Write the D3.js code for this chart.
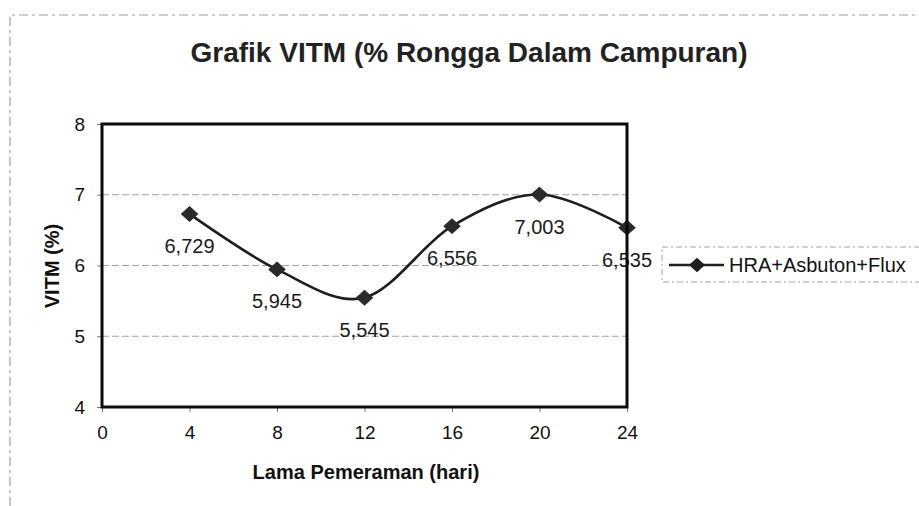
<!DOCTYPE html>
<html lang="en">
<head>
    <meta charset="UTF-8">
    <title>Grafik VITM</title>
    <script src="https://d3js.org/d3.v7.min.js"></script>
    <style>
        body {
            margin: 0;
            background-color: #ffffff;
            font-family: Arial, 'Liberation Sans', sans-serif;
        }
        .grid line {
            stroke: #a0a0a0;
            stroke-width: 1px;
            stroke-dasharray: 7, 3;
        }
    </style>
</head>
<body>
    <div id="chart"></div>
    <script>
        // data
        const days = [4, 8, 12, 16, 20, 24];
        const vitm = [6.729, 5.945, 5.545, 6.556, 7.003, 6.535];
        const seriesName = "HRA+Asbuton+Flux";
        const xTicks = [0, 4, 8, 12, 16, 20, 24];
        const yTicks = [4, 5, 6, 7, 8];

        const svgWidth = 919;
        const svgHeight = 506;
        const plot = { left: 102, top: 124, right: 627, bottom: 407 };

        const svg = d3.select("#chart").append("svg")
            .attr("width", svgWidth)
            .attr("height", svgHeight);

        // faint chart-area border (scan remains)
        svg.append("path")
            .attr("d", `M10,${svgHeight} L10,15 L${svgWidth},15`)
            .attr("fill", "none")
            .attr("stroke", "#a0a0a0")
            .attr("stroke-width", 1.2)
            .attr("stroke-dasharray", "9,4,3,4");

        const x = d3.scaleLinear().domain([0, 24]).range([plot.left, plot.right]);
        const y = d3.scaleLinear().domain([4, 8]).range([plot.bottom, plot.top]);

        const idLocale = d3.formatLocale({ decimal: ",", thousands: ".", grouping: [3], currency: ["Rp", ""] });
        const fmt = idLocale.format(".3f");

        // title
        svg.append("text")
            .attr("x", 469)
            .attr("y", 62)
            .attr("text-anchor", "middle")
            .attr("font-size", 28)
            .attr("font-weight", "bold")
            .attr("fill", "#222")
            .text("Grafik VITM (% Rongga Dalam Campuran)");

        // horizontal gridlines
        svg.append("g")
            .attr("class", "grid")
            .selectAll("line")
            .data(yTicks.slice(1, -1))
            .enter().append("line")
            .attr("x1", plot.left)
            .attr("x2", plot.right)
            .attr("y1", d => y(d))
            .attr("y2", d => y(d));

        // axes
        const xAxis = svg.append("g")
            .attr("transform", `translate(0,${plot.bottom})`)
            .call(d3.axisBottom(x).tickValues(xTicks).tickFormat(d3.format("d")).tickSize(5).tickPadding(14));
        const yAxis = svg.append("g")
            .attr("transform", `translate(${plot.left},0)`)
            .call(d3.axisLeft(y).tickValues(yTicks).tickFormat(d3.format("d")).tickSize(5).tickPadding(12));

        [xAxis, yAxis].forEach(g => {
            g.select(".domain").remove();
            g.selectAll(".tick line").attr("stroke", "#777");
            g.selectAll(".tick text")
                .attr("font-size", 19)
                .attr("font-family", "Arial, 'Liberation Sans', sans-serif")
                .attr("fill", "#111");
        });
        xAxis.selectAll(".tick text").attr("dy", "0.71em");

        // axis titles
        svg.append("text")
            .attr("x", 366)
            .attr("y", 479)
            .attr("text-anchor", "middle")
            .attr("font-size", 20)
            .attr("font-weight", "bold")
            .attr("fill", "#111")
            .text("Lama Pemeraman (hari)");

        svg.append("text")
            .attr("transform", "translate(59,266) rotate(-90)")
            .attr("text-anchor", "middle")
            .attr("font-size", 20)
            .attr("font-weight", "bold")
            .attr("fill", "#111")
            .text("VITM (%)");

        // smoothed series line
        const line = d3.line()
            .x((d, i) => x(days[i]))
            .y(d => y(d))
            .curve(d3.curveCardinal.tension(0));

        svg.append("path")
            .datum(vitm)
            .attr("fill", "none")
            .attr("stroke", "#1e1e1e")
            .attr("stroke-width", 2.6)
            .attr("d", line);

        const diamond = d3.symbol().type(d3.symbolDiamond2).size(150);

        svg.append("g")
            .selectAll("path")
            .data(vitm)
            .enter().append("path")
            .attr("transform", (d, i) => `translate(${x(days[i])},${y(d)}) scale(1.05,0.95)`)
            .attr("d", diamond)
            .attr("fill", "#2a2a2a")
            .attr("stroke", "#2a2a2a")
            .attr("stroke-width", 1);

        // data labels
        svg.append("g")
            .selectAll("text")
            .data(vitm)
            .enter().append("text")
            .attr("x", (d, i) => x(days[i]))
            .attr("y", d => y(d) + 39)
            .attr("text-anchor", "middle")
            .attr("font-size", 20)
            .attr("fill", "#1a1a1a")
            .text(d => fmt(d));

        // plot area border
        svg.append("rect")
            .attr("x", plot.left)
            .attr("y", plot.top)
            .attr("width", plot.right - plot.left)
            .attr("height", plot.bottom - plot.top)
            .attr("fill", "none")
            .attr("stroke", "#0a0a0a")
            .attr("stroke-width", 3);

        // legend
        const legend = svg.append("g").attr("transform", "translate(662,247)");
        legend.append("rect")
            .attr("width", 280)
            .attr("height", 35)
            .attr("fill", "none")
            .attr("stroke", "#a0a0a0")
            .attr("stroke-width", 1)
            .attr("stroke-dasharray", "6,3,2,3");
        legend.append("line")
            .attr("x1", 7)
            .attr("x2", 62)
            .attr("y1", 18)
            .attr("y2", 18)
            .attr("stroke", "#1e1e1e")
            .attr("stroke-width", 2.6);
        legend.append("path")
            .attr("transform", "translate(35,18) scale(1.05,0.95)")
            .attr("d", diamond)
            .attr("fill", "#1e1e1e");
        legend.append("text")
            .attr("x", 67)
            .attr("y", 25)
            .attr("font-size", 20)
            .attr("fill", "#111")
            .text(seriesName);
    </script>
</body>
</html>
